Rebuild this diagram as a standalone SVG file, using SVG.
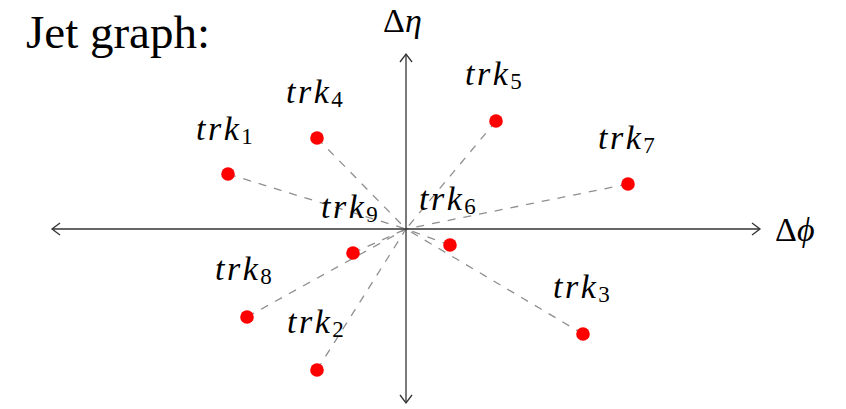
<svg xmlns="http://www.w3.org/2000/svg" width="846" height="409" viewBox="0 0 846 409">
<defs>
<style>
.axis{stroke:#333;stroke-width:1.3;fill:none}
.edge{stroke:#8f8f8f;stroke-width:1.3;stroke-dasharray:8 8;fill:none}
.dot{fill:#ff0000}
.lbl{font-family:'Liberation Serif',serif;font-style:italic;font-size:34px;letter-spacing:2.5px;fill:#000}
.sub{font-style:normal;font-size:23px;letter-spacing:0}
.ax{font-family:'Liberation Serif',serif;font-size:34px;fill:#000}
.title{font-family:'Liberation Serif',serif;font-size:47px;fill:#000}
</style>
<marker id="arr" viewBox="-10 -7 12 14" markerWidth="12" markerHeight="14" refX="0" refY="0" orient="auto-start-reverse" markerUnits="userSpaceOnUse">
<path d="M -8 -6 Q -2 -1.5 0 0 Q -2 1.5 -8 6" stroke="#333" stroke-width="1.3" fill="none"/>
</marker>
</defs>
<text class="title" x="26" y="48">Jet graph:</text>
<g id="connectors">
<line class="edge" x1="228" y1="174" x2="406" y2="229"/>
<line class="edge" x1="317" y1="138" x2="406" y2="229"/>
<line class="edge" x1="496" y1="121" x2="406" y2="229"/>
<line class="edge" x1="628" y1="184" x2="406" y2="229"/>
<line class="edge" x1="450" y1="245" x2="406" y2="229"/>
<line class="edge" x1="353" y1="253" x2="406" y2="229"/>
<line class="edge" x1="247" y1="317" x2="406" y2="229"/>
<line class="edge" x1="317" y1="370" x2="406" y2="229"/>
<line class="edge" x1="583" y1="334" x2="406" y2="229"/>
</g>
<g id="axes">
<line class="axis" x1="52" y1="229" x2="760" y2="229" marker-start="url(#arr)" marker-end="url(#arr)"/>
<line class="axis" x1="406" y1="403" x2="406" y2="54" marker-start="url(#arr)" marker-end="url(#arr)"/>
<text class="ax" x="383" y="32">Δ<tspan font-style="italic">η</tspan></text>
<text class="ax" x="775" y="241">Δ<tspan font-style="italic">ϕ</tspan></text>
</g>
<g id="trk1"><circle class="dot" cx="228" cy="174" r="6.8"/><text class="lbl" x="196" y="140">trk<tspan class="sub" dy="4">1</tspan></text></g>
<g id="trk4"><circle class="dot" cx="317" cy="138" r="6.8"/><text class="lbl" x="286" y="103">trk<tspan class="sub" dy="4">4</tspan></text></g>
<g id="trk5"><circle class="dot" cx="496" cy="121" r="6.8"/><text class="lbl" x="465" y="85">trk<tspan class="sub" dy="4">5</tspan></text></g>
<g id="trk7"><circle class="dot" cx="628" cy="184" r="6.8"/><text class="lbl" x="598" y="149">trk<tspan class="sub" dy="4">7</tspan></text></g>
<g id="trk6"><circle class="dot" cx="450" cy="245" r="6.8"/><text class="lbl" x="419" y="210">trk<tspan class="sub" dy="4">6</tspan></text></g>
<g id="trk9"><circle class="dot" cx="353" cy="253" r="6.8"/><text class="lbl" x="321" y="218">trk<tspan class="sub" dy="4">9</tspan></text></g>
<g id="trk8"><circle class="dot" cx="247" cy="317" r="6.8"/><text class="lbl" x="215" y="280">trk<tspan class="sub" dy="4">8</tspan></text></g>
<g id="trk2"><circle class="dot" cx="317" cy="370" r="6.8"/><text class="lbl" x="287" y="333">trk<tspan class="sub" dy="4">2</tspan></text></g>
<g id="trk3"><circle class="dot" cx="583" cy="334" r="6.8"/><text class="lbl" x="553" y="298">trk<tspan class="sub" dy="4">3</tspan></text></g>
</svg>
